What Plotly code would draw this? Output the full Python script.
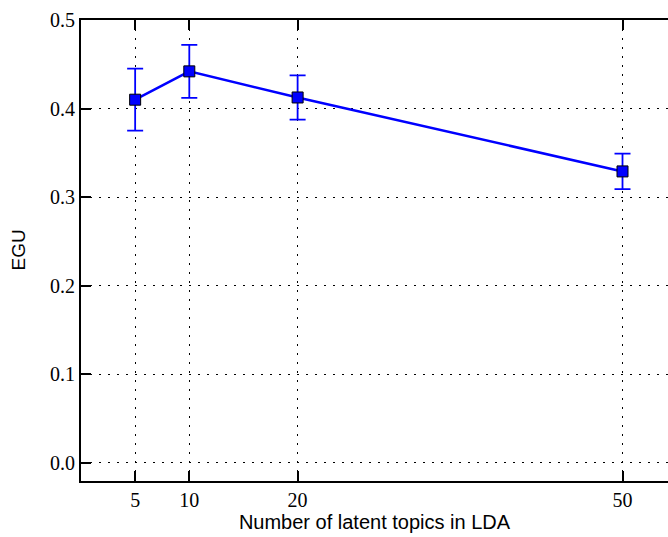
import plotly.graph_objects as go

topics = [5, 10, 20, 50]
egu = [0.410, 0.442, 0.4125, 0.329]
egu_err = [0.035, 0.030, 0.025, 0.020]
x_ticks = [5, 10, 20, 50]
y_ticks = [0.0, 0.1, 0.2, 0.3, 0.4, 0.5]

fig = go.Figure()
fig.add_trace(go.Scatter(
    x=topics, y=egu,
    mode="lines+markers",
    line=dict(color="#0000ff", width=2.5),
    marker=dict(symbol="square", size=11, color="#0000ff",
                line=dict(color="black", width=1)),
    error_y=dict(type="data", array=egu_err, visible=True,
                 color="#0000ff", thickness=1.8, width=8),
    showlegend=False,
))

serif = "Liberation Serif, DejaVu Serif, serif"
sans = "Liberation Sans, Arial, sans-serif"
dots = "2px,7px"

fig.update_layout(
    width=668, height=537,
    margin=dict(l=81, r=0, t=20, b=56),
    plot_bgcolor="white", paper_bgcolor="white",
    xaxis=dict(
        range=[0, 54.2], tickvals=x_ticks, ticktext=[str(v) for v in x_ticks],
        ticks="inside", ticklen=10, tickwidth=1.5, tickcolor="black",
        showline=True, linecolor="black", linewidth=2, mirror="ticks",
        showgrid=True, gridcolor="black", gridwidth=1.2, griddash=dots,
        zeroline=False, layer="above traces",
        tickfont=dict(family=serif, size=20, color="black"),
        title=dict(text="Number of latent topics in LDA",
                   font=dict(family=sans, size=20, color="black"), standoff=5),
    ),
    yaxis=dict(
        range=[-0.0206, 0.5], tickvals=y_ticks,
        ticktext=[f"{v:.1f}" for v in y_ticks],
        ticks="inside", ticklen=10, tickwidth=1.5, tickcolor="black",
        showline=True, linecolor="black", linewidth=2,
        showgrid=True, gridcolor="black", gridwidth=1.2, griddash=dots,
        zeroline=False, layer="above traces",
        tickfont=dict(family=serif, size=20, color="black"),
    ),
    annotations=[dict(
        text="EGU", xref="paper", yref="paper", x=0, y=0.5,
        xanchor="center", yanchor="middle", xshift=-63, textangle=-90,
        showarrow=False, font=dict(family=sans, size=19, color="black"),
    )],
)

fig.write_html("out.html")
